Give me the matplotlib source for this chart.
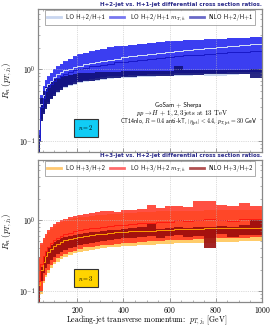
import matplotlib
matplotlib.use("Agg")
import matplotlib.pyplot as plt
from matplotlib.lines import Line2D
import numpy as np

plt.rcParams['font.family'] = ['cmr10', 'DejaVu Serif']
plt.rcParams['mathtext.fontset'] = 'cm'
plt.rcParams['axes.formatter.use_mathtext'] = True

# bin edges in leading-jet pT [GeV]
edges = [30, 40, 50, 60, 70, 80, 95, 110, 125, 140, 160, 180, 200, 225, 250, 275, 300,
         330, 360, 390, 420, 460, 500, 540, 580, 620, 660, 700, 750, 800, 850, 900, 950, 1000]

# ---- n = 2 : H+2 / H+1 ----
r2_lo_lo = [0.07, 0.19, 0.24, 0.29, 0.33, 0.38, 0.43, 0.47, 0.51, 0.55, 0.58, 0.61, 0.64, 0.66, 0.68, 0.70, 0.72,
            0.74, 0.75, 0.76, 0.77, 0.78, 0.79, 0.80, 0.81, 0.82, 0.82, 0.83, 0.80, 0.82, 0.84, 0.85, 0.86]
r2_lo_hi = [0.13, 0.42, 0.56, 0.70, 0.78, 0.88, 0.98, 1.08, 1.18, 1.28, 1.40, 1.50, 1.60, 1.70, 1.78, 1.86, 1.94,
            2.02, 2.08, 2.14, 2.20, 2.26, 2.32, 2.38, 2.44, 2.50, 2.54, 2.58, 2.62, 2.68, 2.72, 2.76, 2.80]
r2_lo_c = [0.11, 0.33, 0.44, 0.55, 0.62, 0.70, 0.78, 0.85, 0.91, 0.97, 1.03, 1.08, 1.13, 1.18, 1.23, 1.27, 1.32,
           1.37, 1.42, 1.47, 1.52, 1.58, 1.64, 1.70, 1.76, 1.82, 1.88, 1.95, 2.02, 2.09, 2.16, 2.23, 2.30]
r2_mt_lo = [0.07, 0.20, 0.25, 0.30, 0.35, 0.40, 0.46, 0.51, 0.55, 0.59, 0.63, 0.66, 0.69, 0.72, 0.74, 0.76, 0.78,
            0.80, 0.81, 0.82, 0.83, 0.84, 0.85, 0.86, 0.87, 0.88, 0.88, 0.89, 0.90, 0.90, 0.91, 0.92, 0.92]
r2_mt_hi = [0.14, 0.44, 0.58, 0.72, 0.80, 0.90, 1.00, 1.10, 1.20, 1.30, 1.42, 1.52, 1.62, 1.72, 1.80, 1.88, 1.96,
            2.04, 2.10, 2.16, 2.22, 2.28, 2.34, 2.40, 2.46, 2.52, 2.56, 2.60, 2.64, 2.70, 2.74, 2.78, 2.82]
r2_mt_c = [0.10, 0.30, 0.40, 0.50, 0.56, 0.63, 0.70, 0.76, 0.81, 0.86, 0.92, 0.97, 1.01, 1.06, 1.10, 1.13, 1.17,
           1.21, 1.25, 1.29, 1.33, 1.37, 1.41, 1.45, 1.49, 1.53, 1.57, 1.61, 1.65, 1.69, 1.73, 1.77, 1.80]
r2_nlo_lo = [0.07, 0.19, 0.24, 0.28, 0.33, 0.38, 0.43, 0.48, 0.52, 0.56, 0.60, 0.63, 0.66, 0.68, 0.70, 0.72, 0.74,
             0.75, 0.77, 0.78, 0.79, 0.80, 0.81, 0.82, 0.82, 0.84, 0.83, 0.84, 0.86, 0.85, 0.86, 0.85, 0.75]
r2_nlo_hi = [0.12, 0.40, 0.50, 0.56, 0.62, 0.68, 0.73, 0.77, 0.80, 0.82, 0.84, 0.86, 0.88, 0.89, 0.90, 0.91, 0.92,
             0.93, 0.93, 0.94, 0.95, 0.95, 0.96, 0.94, 0.96, 1.12, 0.97, 0.98, 0.97, 0.98, 0.98, 0.99, 1.00]

# ---- n = 3 : H+3 / H+2 ----
r3_lo_lo = [0.07, 0.09, 0.13, 0.16, 0.18, 0.21, 0.24, 0.26, 0.28, 0.30, 0.32, 0.34, 0.35, 0.37, 0.38, 0.39, 0.40,
            0.41, 0.42, 0.43, 0.43, 0.44, 0.45, 0.46, 0.46, 0.47, 0.47, 0.48, 0.48, 0.49, 0.49, 0.50, 0.50]
r3_lo_hi = [0.28, 0.44, 0.52, 0.60, 0.68, 0.75, 0.82, 0.88, 0.93, 0.98, 1.02, 1.06, 1.09, 1.12, 1.15, 1.17, 1.19,
            1.21, 1.23, 1.25, 1.27, 1.29, 1.31, 1.32, 1.33, 1.34, 1.35, 1.36, 1.37, 1.38, 1.39, 1.40, 1.40]
r3_lo_c = [0.12, 0.20, 0.26, 0.31, 0.35, 0.39, 0.43, 0.46, 0.49, 0.52, 0.54, 0.56, 0.58, 0.60, 0.62, 0.63, 0.64,
           0.66, 0.67, 0.68, 0.69, 0.70, 0.71, 0.72, 0.73, 0.74, 0.74, 0.75, 0.76, 0.76, 0.77, 0.77, 0.78]
r3_mt_lo = [0.07, 0.10, 0.14, 0.17, 0.20, 0.23, 0.26, 0.29, 0.31, 0.33, 0.35, 0.37, 0.39, 0.41, 0.42, 0.43, 0.44,
            0.45, 0.46, 0.47, 0.48, 0.49, 0.50, 0.51, 0.52, 0.53, 0.53, 0.54, 0.55, 0.55, 0.56, 0.56, 0.57]
r3_mt_hi = [0.30, 0.47, 0.55, 0.64, 0.72, 0.80, 0.88, 0.95, 1.00, 1.05, 1.10, 1.14, 1.18, 1.22, 1.26, 1.28, 1.32,
            1.35, 1.30, 1.38, 1.40, 1.42, 1.62, 1.50, 1.55, 1.58, 1.52, 1.88, 1.86, 1.65, 1.60, 1.75, 1.56]
r3_mt_c = [0.14, 0.24, 0.31, 0.37, 0.42, 0.47, 0.52, 0.56, 0.60, 0.63, 0.66, 0.69, 0.72, 0.74, 0.76, 0.78, 0.80,
           0.82, 0.84, 0.86, 0.88, 0.90, 0.92, 0.93, 0.95, 1.00, 0.97, 0.99, 1.03, 1.00, 0.98, 1.02, 1.04]
r3_nlo_lo = [0.07, 0.14, 0.18, 0.21, 0.24, 0.27, 0.30, 0.33, 0.35, 0.38, 0.40, 0.42, 0.44, 0.46, 0.48, 0.49, 0.51,
             0.52, 0.54, 0.55, 0.56, 0.57, 0.59, 0.56, 0.60, 0.62, 0.58, 0.60, 0.40, 0.63, 0.58, 0.62, 0.62]
r3_nlo_hi = [0.12, 0.22, 0.30, 0.36, 0.41, 0.45, 0.49, 0.52, 0.55, 0.57, 0.59, 0.61, 0.63, 0.65, 0.67, 0.68, 0.70,
             0.72, 0.73, 0.74, 0.76, 0.80, 0.88, 0.74, 0.78, 0.80, 0.78, 0.79, 0.81, 0.83, 0.80, 0.84, 1.00]

x_ticks = [200, 400, 600, 800, 1000]


def draw_panel(ax, lo, mt, nlo, cols, labels, title, ntext, nbox):
    # LO band
    ax.stairs(lo[1], edges, baseline=lo[0], fill=True, color=cols[0], lw=0)
    # LO with m_T scale
    ax.stairs(mt[1], edges, baseline=mt[0], fill=True, color=cols[1], alpha=0.82, lw=0)
    # NLO
    ax.stairs(nlo[1], edges, baseline=nlo[0], fill=True, color=cols[2], alpha=0.9, lw=0)
    # central lines
    ax.stairs(lo[2], edges, color=cols[3], lw=0.7)
    ax.stairs(mt[2], edges, color=cols[4], lw=0.7)

    ax.set_yscale('log')
    ax.set_xlim(30, 1000)
    ax.set_ylim(0.07, 7.0)
    ax.set_xticks(x_ticks)
    ax.minorticks_on()
    ax.tick_params(which='both', direction='in', top=True, right=True, labelsize=5.5,
                   color='#777777', pad=2)
    ax.tick_params(which='major', length=3, width=0.5)
    ax.tick_params(which='minor', length=1.5, width=0.4)
    ax.grid(True, which='major', ls=':', lw=0.5, color='#bbbbbb')
    for s in ax.spines.values():
        s.set_color('#888888')
        s.set_linewidth(0.9)
    ax.set_ylabel(r'$R_n\,(p_{T,j_1})$', fontsize=6.5)
    ax.yaxis.set_label_coords(-0.105, 0.5)

    handles = [Line2D([], [], color=cols[5 + i], lw=2) for i in range(3)]
    leg = ax.legend(handles, labels, ncol=3, mode='expand',
                    bbox_to_anchor=(0.03, 0.885, 0.94, 0.095), loc='lower left',
                    borderaxespad=0, fancybox=False, edgecolor='#888888',
                    handlelength=2.2, prop={'family': 'cmss10', 'size': 4.6})
    leg.get_frame().set_linewidth(0.6)

    ax.text(1.0, 1.012, title, transform=ax.transAxes, ha='right', va='bottom',
            fontsize=4.0, fontweight='bold', color='#2a2a8a', family='DejaVu Sans')
    ax.text(0.214, 0.168, ntext, transform=ax.transAxes, ha='center', va='center',
            fontsize=4.5, bbox=dict(boxstyle='square,pad=0.7', fc=nbox, ec='#333333', lw=0.8))


fig = plt.figure(figsize=(2.72, 3.33), dpi=100)
ax1 = fig.add_axes([0.1397, 0.5435, 0.8235, 0.4295])
ax2 = fig.add_axes([0.1397, 0.0931, 0.8235, 0.4264])

draw_panel(ax1, (r2_lo_lo, r2_lo_hi, r2_lo_c), (r2_mt_lo, r2_mt_hi, r2_mt_c),
           (r2_nlo_lo, r2_nlo_hi),
           ['#c9d6f0', '#1c1cf2', '#101078', '#d6e2f6', '#1818c8', '#c9d6f0', '#7878f0', '#6a6ac8'],
           ['LO H+2/H+1', r'LO H+2/H+1 $m_{T,h}$', 'NLO H+2/H+1'],
           'H+2-jet vs. H+1-jet differential cross section ratios.', r'$n = 2$', '#11ccf5')
draw_panel(ax2, (r3_lo_lo, r3_lo_hi, r3_lo_c), (r3_mt_lo, r3_mt_hi, r3_mt_c),
           (r3_nlo_lo, r3_nlo_hi),
           ['#ffcc6a', '#ff2a1a', '#9a0c0c', '#ff9d00', '#ff1a10', '#ffc870', '#ff6a6a', '#b05050'],
           ['LO H+3/H+2', r'LO H+3/H+2 $m_{T,h}$', 'NLO H+3/H+2'],
           'H+3-jet vs. H+2-jet differential cross section ratios.', r'$n = 3$', '#ffd400')

ax1.tick_params(labelbottom=False)
ax2.set_xlabel(r'Leading-jet transverse momentum:  $p_{T,j_1}$ [GeV]', fontsize=5.6)
ax2.xaxis.set_label_coords(0.487, -0.085)

ax1.text(0.625, 0.33, 'GoSam + Sherpa', transform=ax1.transAxes, ha='center', va='center',
         fontsize=4.6, family='cmss10')
ax1.text(0.643, 0.27, r'$pp \rightarrow H\,+\,1,2,3\,$jets at 13 TeV', transform=ax1.transAxes,
         ha='center', va='center', fontsize=4.8)
ax1.text(0.67, 0.21, r'CT14nlo, $R = 0.4$ anti-kT, $|\eta_{\rm jet}| < 4.4$, $p_{T,\rm jet} = 30$ GeV',
         transform=ax1.transAxes, ha='center', va='center', fontsize=4.3, family='cmss10')

fig.savefig('out.png', dpi=100)
